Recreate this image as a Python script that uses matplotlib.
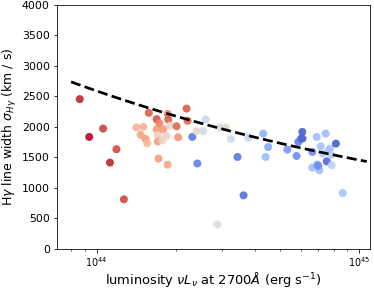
import matplotlib
matplotlib.use('Agg')
import matplotlib.pyplot as plt
from matplotlib.ticker import NullFormatter
import numpy as np

# luminosity at 2700A in units of 1e44 erg/s
lum = [0.863, 0.938, 1.059, 1.125, 1.191, 1.271,
       1.581, 1.694, 1.866, 1.875, 1.419, 1.507, 1.472, 1.538, 1.560,
       1.694, 1.710, 1.710, 1.786, 1.795, 1.849, 1.905, 2.018, 2.046,
       1.722, 1.866, 2.203, 2.223, 1.734,
       2.317, 2.421, 2.404, 2.553, 2.606, 2.884, 2.951, 3.105, 3.251,
       3.443, 3.631, 3.784, 4.315, 4.406, 4.508, 5.333, 5.781, 5.875,
       6.012, 6.081, 6.095, 6.637, 6.637, 6.902, 6.934, 7.063, 6.998,
       7.145, 7.278, 7.464, 7.534, 7.638, 7.745, 7.870, 7.816, 8.166, 8.670]
# H-gamma line width (km/s)
sigma = [2455, 1835, 1972, 1414, 1633, 811,
         2230, 2126, 2210, 2120, 1990, 2000, 1870, 1800, 1730,
         1960, 1870, 1760, 1780, 1960, 1850, 2020, 2010, 1830,
         1480, 1380, 2300, 2100, 2060,
         1835, 1400, 1930, 1930, 2120, 400, 1990, 1990, 1800,
         1507, 877, 1820, 1890, 1507, 1670, 1627, 1523, 1753,
         1808, 1918, 1808, 1589, 1331, 1835, 1380, 1288, 1360,
         1682, 1561, 1890, 1435, 1605, 1643, 1370, 1540, 1726, 915]
# colour value (0 = blue, 1 = red)
cval = [0.97, 1.0, 0.93, 0.97, 0.92, 0.92,
        0.88, 0.90, 0.80, 0.88, 0.68, 0.68, 0.72, 0.74, 0.66,
        0.74, 0.58, 0.74, 0.56, 0.74, 0.57, 0.54, 0.86, 0.76,
        0.74, 0.72, 0.88, 0.86, 0.80,
        0.10, 0.12, 0.56, 0.46, 0.44, 0.50, 0.50, 0.54, 0.44,
        0.10, 0.08, 0.42, 0.26, 0.30, 0.22, 0.18, 0.16, 0.12,
        0.08, 0.04, 0.06, 0.16, 0.30, 0.30, 0.22, 0.30, 0.16,
        0.32, 0.36, 0.30, 0.06, 0.34, 0.32, 0.38, 0.36, 0.04, 0.32]

# power-law relation
fit_norm = 2590.0
fit_slope = -0.25
fit_range = [0.80, 10.7]

plt.figure(figsize=(374 / 72, 289 / 72), dpi=72)
plt.subplots_adjust(left=0.152, right=0.989, top=0.983, bottom=0.139)
ax = plt.gca()

ax.scatter(np.array(lum) * 1e44, sigma, c=cval, cmap='coolwarm', vmin=0, vmax=1,
           s=64, alpha=0.9, edgecolors='none', zorder=2)

lx = np.logspace(np.log10(fit_range[0]), np.log10(fit_range[1]), 100)
ax.plot(lx * 1e44, fit_norm * lx ** fit_slope, 'k--', lw=2.7, zorder=3)

ax.set_xscale('log')
ax.set_xlim(7.06e43, 1.10e45)
ax.set_ylim(0, 4000)
ax.xaxis.set_minor_formatter(NullFormatter())
ax.tick_params(axis='y', labelsize=11)
ax.tick_params(axis='x', labelsize=9.5, pad=3)
ax.set_xlabel(r'luminosity $\nu L_\nu$ at 2700$\AA$ (erg s$^{-1}$)', fontsize=13, labelpad=1)
ax.set_ylabel(r'H$\gamma$ line width $\sigma_{H\gamma}$ (km / s)', fontsize=12.5, labelpad=3)

plt.savefig('out.png', dpi=72)
